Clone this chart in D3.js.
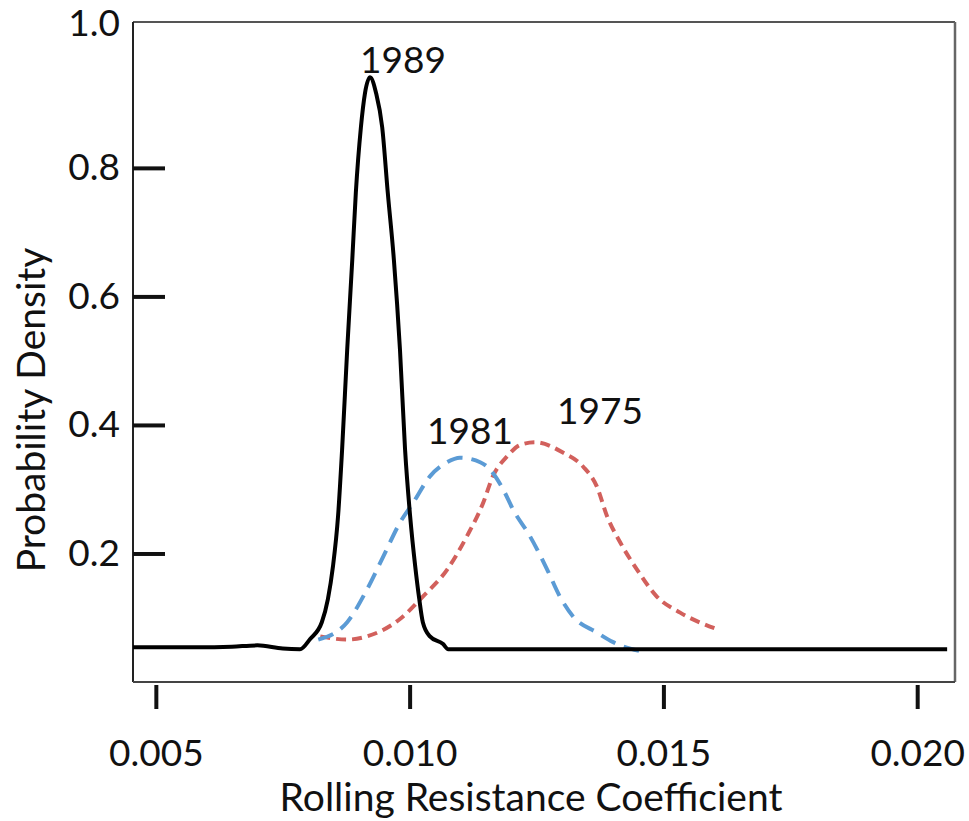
<!DOCTYPE html>
<html>
<head>
<meta charset="utf-8">
<script src="https://cdn.jsdelivr.net/npm/d3@7.9.0/dist/d3.min.js"></script>
<style>
  body { margin: 0; background: #fff; }
  text { font-family: Lato, "Open Sans", sans-serif; fill: #111; }
</style>
</head>
<body>
<div id="plot-container"></div>
<script>
// x values (rolling resistance coefficient) and densities
const x1989 = [0.00455, 0.0058, 0.0065, 0.0070, 0.0075, 0.00784, 0.00804, 0.00827, 0.00839, 0.00849,
               0.00859, 0.00867, 0.00877, 0.00887, 0.00894, 0.00904, 0.00912, 0.00922, 0.00934,
               0.00946, 0.00957, 0.00969, 0.00981, 0.00991, 0.01001, 0.01011, 0.01019, 0.01026,
               0.01040, 0.01066, 0.01076, 0.0130, 0.0160, 0.0190, 0.02059];
const y1989 = [0.054, 0.054, 0.055, 0.057, 0.052, 0.051, 0.067, 0.093, 0.129, 0.180,
               0.258, 0.362, 0.517, 0.657, 0.761, 0.863, 0.916, 0.941, 0.916,
               0.863, 0.761, 0.657, 0.517, 0.362, 0.258, 0.180, 0.129, 0.093,
               0.071, 0.059, 0.051, 0.051, 0.051, 0.051, 0.051];

const x1981 = [0.00820, 0.00877, 0.00916, 0.00948, 0.00981, 0.01007, 0.01040, 0.01074, 0.01099,
               0.01139, 0.01153, 0.01184, 0.01204, 0.01237, 0.01271, 0.01296, 0.01322, 0.01369,
               0.01401, 0.01454];
const y1981 = [0.066, 0.093, 0.144, 0.195, 0.248, 0.279, 0.320, 0.342, 0.349,
               0.342, 0.335, 0.300, 0.268, 0.227, 0.175, 0.133, 0.102, 0.077,
               0.062, 0.048];

const x1975 = [0.00824, 0.00877, 0.00916, 0.00981, 0.01026, 0.01074, 0.01113, 0.01145, 0.01164,
               0.01192, 0.01218, 0.01247, 0.01302, 0.01342, 0.01369, 0.01389, 0.01415, 0.01448,
               0.01487, 0.01533, 0.01606];
const y1975 = [0.071, 0.066, 0.071, 0.098, 0.133, 0.175, 0.227, 0.279, 0.320,
               0.351, 0.369, 0.373, 0.357, 0.335, 0.304, 0.258, 0.217, 0.175,
               0.133, 0.108, 0.082];

const xTicks = [0.005, 0.010, 0.015, 0.020];
const yTicks = [0.2, 0.4, 0.6, 0.8, 1.0];

// series labels and where they sit (data units)
const labelText = ["1989", "1981", "1975"];
const labelX = [0.00987, 0.01119, 0.01375];
const labelY = [0.947, 0.370, 0.402];

const width = 969;
const height = 821;

const svg = d3.select('#plot-container')
    .append('svg')
    .attr('width', width)
    .attr('height', height);

const box = { left: 133, right: 955, top: 22, bottom: 682 };

const xScale = d3.scaleLinear()
    .domain([0.00455, 0.020745])
    .range([box.left, box.right]);

const yScale = d3.scaleLinear()
    .domain([0, 1.027])
    .range([box.bottom, box.top]);

// frame
svg.append('line')
    .attr('x1', box.left).attr('x2', box.right)
    .attr('y1', box.top).attr('y2', box.top)
    .attr('stroke', '#555').attr('stroke-width', 2);
svg.append('line')
    .attr('x1', box.right).attr('x2', box.right)
    .attr('y1', box.top).attr('y2', box.bottom)
    .attr('stroke', '#666').attr('stroke-width', 2.5);
svg.append('line')
    .attr('x1', box.left).attr('x2', box.left)
    .attr('y1', box.top).attr('y2', box.bottom)
    .attr('stroke', '#222').attr('stroke-width', 2);
svg.append('line')
    .attr('x1', box.left).attr('x2', box.right)
    .attr('y1', box.bottom).attr('y2', box.bottom)
    .attr('stroke', '#444').attr('stroke-width', 2);

// x axis, ticks pointing out below the frame
const xAxis = svg.append('g')
    .attr('transform', `translate(0, ${box.bottom + 3})`)
    .call(d3.axisBottom(xScale).tickValues(xTicks).tickFormat(d3.format('.3f'))
        .tickSize(24).tickPadding(31));
xAxis.select('.domain').remove();
xAxis.selectAll('line').attr('stroke', '#111').attr('stroke-width', 4);
xAxis.selectAll('text').attr('font-size', 37).attr('font-family', 'Lato').attr('fill', '#111');

// y axis, ticks pointing in
const yAxis = svg.append('g')
    .attr('transform', `translate(${box.left}, 0)`)
    .call(d3.axisLeft(yScale).tickValues(yTicks).tickFormat(d3.format('.1f'))
        .tickSizeInner(-32).tickSizeOuter(0).tickPadding(13));
yAxis.select('.domain').remove();
yAxis.selectAll('line').attr('stroke', '#111').attr('stroke-width', 4);
yAxis.selectAll('text').attr('font-size', 37).attr('font-family', 'Lato').attr('fill', '#111');
// top label sits on the frame, no tick mark there
yAxis.selectAll('.tick').filter(d => d === 1.0).select('line').remove();
yAxis.selectAll('.tick').filter(d => d === 1.0).select('text').attr('dy', '-0.1em');

// axis titles
svg.append('text')
    .attr('transform', 'rotate(-90)')
    .attr('x', -410)
    .attr('y', 31)
    .attr('dy', '0.35em')
    .attr('text-anchor', 'middle')
    .attr('font-size', 39)
    .text('Probability Density');

svg.append('text')
    .attr('x', 531)
    .attr('y', 811)
    .attr('text-anchor', 'middle')
    .attr('font-size', 39)
    .text('Rolling Resistance Coefficient');

// curves
const line = d3.line()
    .x(d => xScale(d[0]))
    .y(d => yScale(d[1]))
    .curve(d3.curveMonotoneX);

const series = [
    { name: '1975', xs: x1975, ys: y1975, color: '#d2605c', dash: '10 6', width: 4 },
    { name: '1981', xs: x1981, ys: y1981, color: '#5b9bd5', dash: '16 9', width: 4 },
    { name: '1989', xs: x1989, ys: y1989, color: '#000', dash: null, width: 4 }
];

svg.append('g')
    .selectAll('path')
    .data(series)
    .enter()
    .append('path')
    .attr('fill', 'none')
    .attr('stroke', d => d.color)
    .attr('stroke-width', d => d.width)
    .attr('stroke-dasharray', d => d.dash)
    .attr('stroke-linejoin', 'round')
    .attr('d', d => line(d.xs.map((x, i) => [x, d.ys[i]])));

// labels
svg.append('g')
    .selectAll('text')
    .data(labelText)
    .enter()
    .append('text')
    .attr('x', (d, i) => xScale(labelX[i]))
    .attr('y', (d, i) => yScale(labelY[i]))
    .attr('text-anchor', 'middle')
    .attr('font-size', 37)
    .text(d => d);
</script>
</body>
</html>
